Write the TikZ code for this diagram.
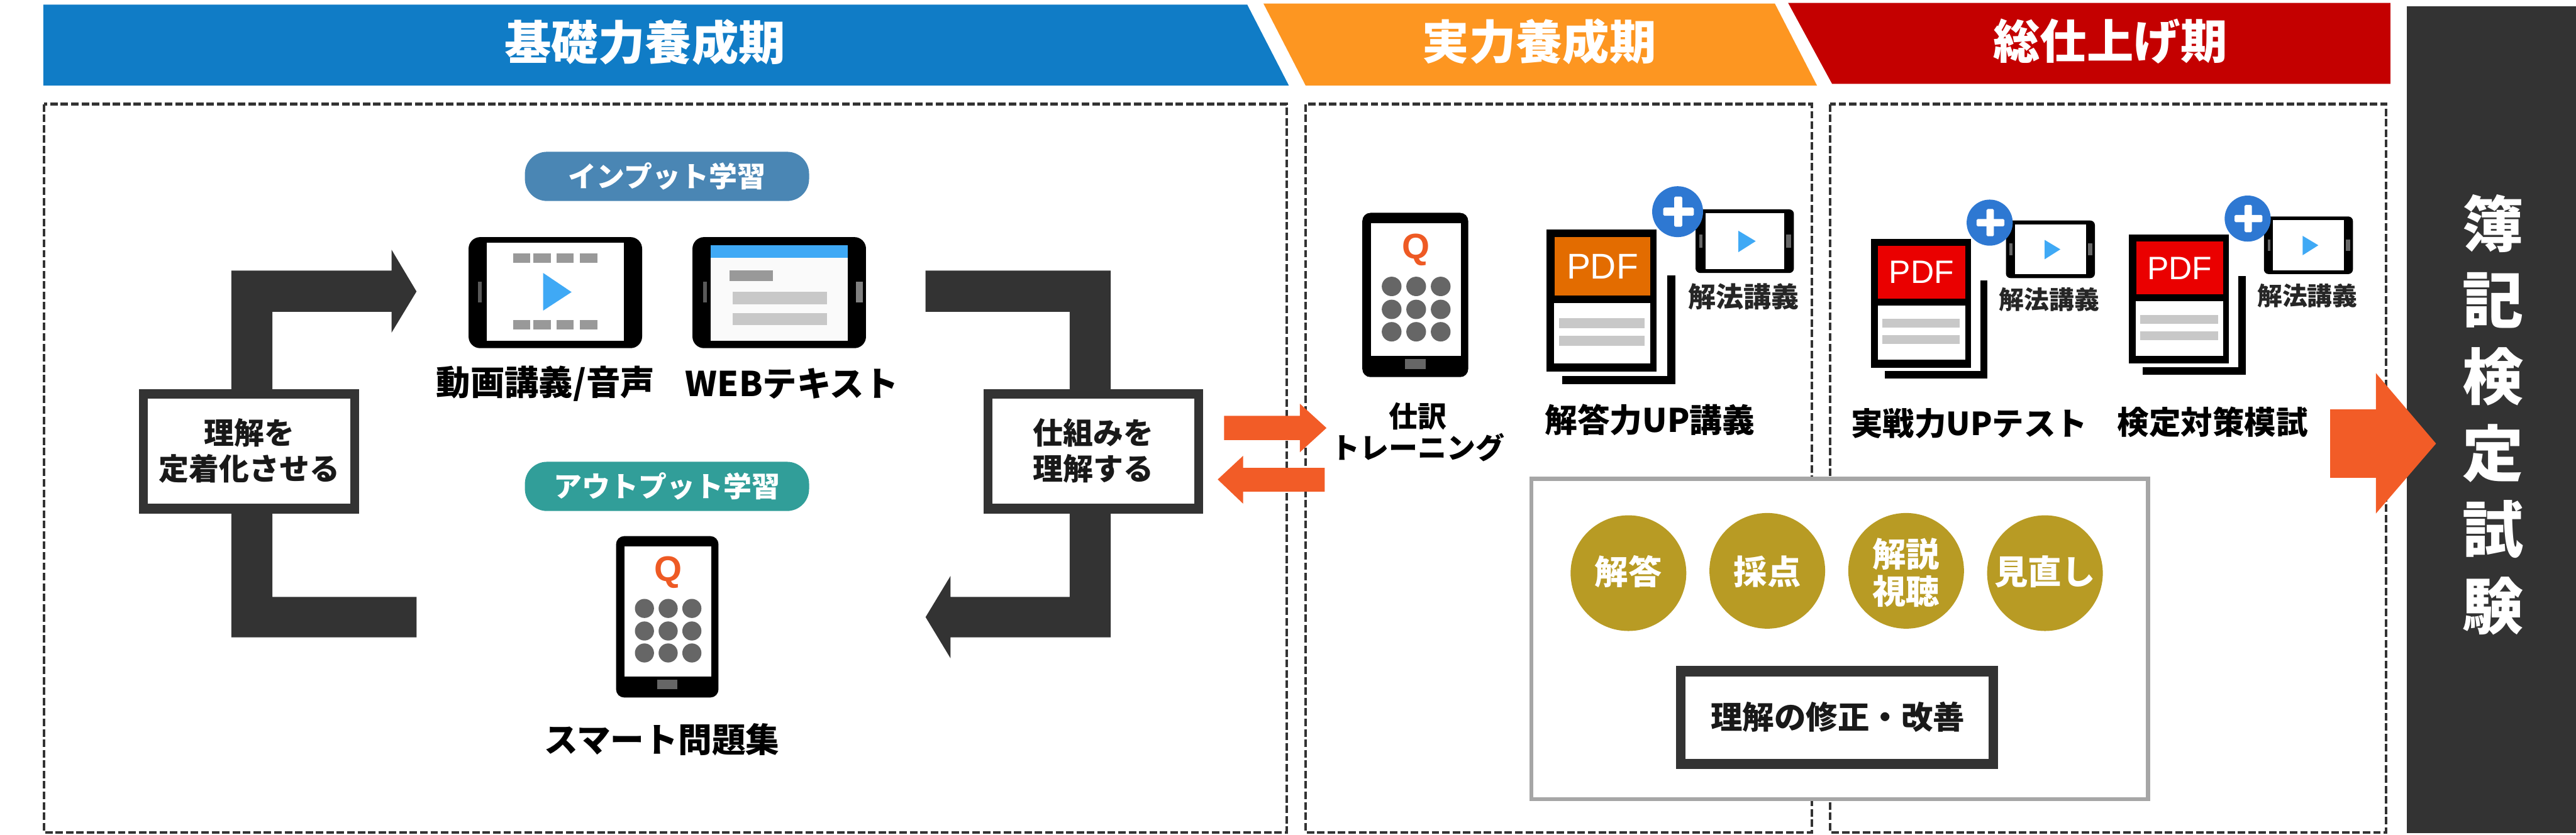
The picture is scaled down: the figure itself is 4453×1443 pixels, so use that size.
\documentclass[tikz,border=0pt]{standalone}
\usepackage{fontspec}
\setmainfont{Noto Sans CJK JP}
\newfontfamily\latinf{Liberation Sans}
\definecolor{hblue}{HTML}{107CC6}
\definecolor{horange}{HTML}{FD9621}
\definecolor{hred}{HTML}{C40000}
\definecolor{dark}{HTML}{333333}
\definecolor{arrowor}{HTML}{F25C27}
\definecolor{pillblue}{HTML}{4A86B4}
\definecolor{pillteal}{HTML}{319E99}
\definecolor{playblue}{HTML}{3FA9F5}
\definecolor{plusblue}{HTML}{2E78D2}
\definecolor{gold}{HTML}{B89B24}
\definecolor{pdfor}{HTML}{E36C00}
\definecolor{pdfred}{HTML}{EA0000}
\definecolor{barlight}{HTML}{C8C8C8}
\definecolor{barmid}{HTML}{999999}
\definecolor{qred}{HTML}{EE5A24}
\newcommand\pxtext[1]{\fontsize{#1}{#1}\selectfont\bfseries}
\tikzset{
  lbl/.style={inner sep=0pt,outer sep=0pt,align=center,text=black},
  dashbox/.style={draw=dark,line width=.045cm,dash pattern=on .13cm off .05cm},
  whitetxt/.style={lbl,text=white}
}
% phone icon: name, x, y, xscale, yscale
\newcommand\phoneicon[5]{%
\begin{scope}[shift={(#2,#3)},xscale=#4,yscale=#5]
  \fill[black,rounded corners=.14cm] (0,0) rectangle (177,279);
  \fill[white] (15,18) rectangle (165,243);
  \fill[black!60] (71,248) rectangle (106,265);
  \node[lbl,text=qred,font=\latinf\bfseries\fontsize{17.5}{17.5}\selectfont] (#1q) at (90,63) {Q};
  \foreach \cx in {49,90,131}{\foreach \cy in {125,164,202}{\fill[black!60] (\cx,\cy) circle (16.5);}}
\end{scope}}
% pdf + video icon: name, x, y, scale, colour
\newcommand\pdficon[5]{%
\begin{scope}[shift={(#2,#3)},scale=#4,transform shape]
  \fill[black] (209,79) rectangle (223,267);
  \fill[black] (27,253) rectangle (223,267);
  \fill[white] (191,0) rectangle (209,253);
  \fill[black] (0,0) rectangle (191,246);
  \fill[#5] (14,13) rectangle (180,114);
  \fill[white] (13,127) rectangle (180,231);
  \fill[barlight] (22,153) rectangle (170,170);
  \fill[barlight] (22,184) rectangle (170,201);
  \node[lbl,text=white,font=\latinf\fontsize{17.6}{17.6}\selectfont] (#1p) at (97,64) {PDF};
  % small tablet
  \fill[black,rounded corners=.08cm] (258,-35) rectangle (428,75);
  \fill[white] (275,-28) rectangle (411,68);
  \fill[black!60] (265,9) rectangle (270,31);
  \fill[black!60] (415,9) rectangle (423,31);
  \fill[playblue] (332,2) -- (362,20) -- (332,39) -- cycle;
  % plus
  \fill[plusblue] (227,-31) circle (44);
  \fill[white,rounded corners=.02cm] (202,-38) rectangle (255,-24);
  \fill[white,rounded corners=.02cm] (221,-57) rectangle (235,-5);
  \node[lbl,text=black!85,font=\pxtext{13.6}] (#1k) at (341,116) {解法講義};
\end{scope}}
\begin{document}
\begin{tikzpicture}[x=0.01cm,y=-0.01cm]
\useasboundingbox (0,0) rectangle (4453,1443);
\fill[white] (0,0) rectangle (4453,1443);
% headers
\fill[hblue] (75,8) -- (2156,8) -- (2228,148) -- (75,148) -- cycle;
\fill[horange] (2184,6) -- (3068,6) -- (3141,148) -- (2257,148) -- cycle;
\fill[hred] (3091,5) -- (4132,5) -- (4132,145) -- (3167,145) -- cycle;
\node[whitetxt,font=\pxtext{23}] (h1) at (1115,73) {基礎力養成期};
\node[whitetxt,font=\pxtext{23}] (h2) at (2661,72) {実力養成期};
\node[whitetxt,font=\pxtext{23}] (h3) at (3648,71) {総仕上げ期};
% exam bar
\fill[dark] (4161,11) rectangle (4453,1440);
\node[whitetxt,font=\fontsize{30}{37.6}\selectfont\bfseries] (exam) at (4310,717) {簿\\記\\検\\定\\試\\験};
% dashed panels
\draw[dashbox] (76,180) rectangle (2224,1439);
\draw[dashbox] (2257,180) rectangle (3132,1439);
\draw[dashbox] (3164,180) rectangle (4125,1439);
% pills
\node[draw=none,fill=pillblue,rounded corners=.38cm,minimum width=4.91cm,minimum height=.85cm,inner sep=0pt] (pill1) at (1153,305) {};
\node[whitetxt,font=\pxtext{13.9}] (pill1t) at (pill1) {インプット学習};
\node[draw=none,fill=pillteal,rounded corners=.38cm,minimum width=4.91cm,minimum height=.85cm,inner sep=0pt] (pill2) at (1153,841) {};
\node[whitetxt,font=\pxtext{13.9}] (pill2t) at (pill2) {アウトプット学習};
% video tablet
\fill[black,rounded corners=.2cm] (810,410) rectangle (1110,602);
\fill[white] (841,420) rectangle (1078,589);
\foreach \xa/\xb in {887/917,922/952,962/992,1002/1033}{
  \fill[barmid] (\xa,438) rectangle (\xb,454);
  \fill[barmid] (\xa,553) rectangle (\xb,570);}
\fill[playblue] (939,472) -- (988,505) -- (939,537) -- cycle;
\fill[black!65] (826,487) rectangle (833,523);
% web tablet
\fill[black,rounded corners=.2cm] (1197,410) rectangle (1497,602);
\fill[white!98!black] (1229,424) rectangle (1466,589);
\fill[playblue] (1229,424) rectangle (1466,446);
\fill[barmid] (1261,468) rectangle (1336,486);
\fill[barlight] (1266,504) rectangle (1430,526);
\fill[barlight] (1266,541) rectangle (1430,562);
\fill[black!65] (1215,487) rectangle (1222,523);
\fill[black!50] (1480,487) rectangle (1492,523);
\node[lbl,font=\pxtext{16.8}] (l1) at (943,663) {動画講義/音声};
\node[lbl,font=\pxtext{16.8}] (l2) at (1369,663) {WEBテキスト};
% smart phone
\phoneicon{ph1}{1065}{927}{1}{1}
\node[lbl,font=\pxtext{16.6}] (l3) at (1144,1279) {スマート問題集};
% block arrows
\fill[dark] (720,504) -- (677,432) -- (677,468) -- (400,468) -- (400,1102) -- (720,1102) -- (720,1032) -- (471,1032) -- (471,539) -- (677,539) -- (677,575) -- cycle;
\fill[dark] (1600,468) -- (1920,468) -- (1920,1102) -- (1643,1102) -- (1643,1138) -- (1600,1067) -- (1643,996) -- (1643,1032) -- (1849,1032) -- (1849,539) -- (1600,539) -- cycle;
% frame boxes
\fill[dark] (240,673) rectangle (621,888);
\fill[white] (255,689) rectangle (605,871);
\node[lbl,text=black!90,font=\pxtext{14.8},align=center] (b1) at (431,779) {理解を\\[.1cm]定着化させる};
\fill[dark] (1700,673) rectangle (2080,888);
\fill[white] (1716,689) rectangle (2065,871);
\node[lbl,text=black!90,font=\pxtext{14.8},align=center] (b2) at (1890,779) {仕組みを\\[.1cm]理解する};
% orange arrows
\fill[arrowor] (2293,740) -- (2247,698) -- (2247,719) -- (2116,719) -- (2116,761) -- (2247,761) -- (2247,782) -- cycle;
\fill[arrowor] (2105,829) -- (2149,788) -- (2149,809) -- (2290,809) -- (2290,850) -- (2149,850) -- (2149,871) -- cycle;
% panel 2
\phoneicon{ph2}{2355}{368}{1.034}{1.018}
\node[lbl,font=\pxtext{14.2},align=center] (l4) at (2451,747) {仕訳\\[.05cm]トレーニング};
\pdficon{ic1}{2673}{397}{1}{pdfor}
\node[lbl,font=\pxtext{16}] (l5) at (2852,726) {解答力UP講義};
% panel 3
\pdficon{ic2}{3234}{413}{.905}{pdfred}
\pdficon{ic3}{3680}{406}{.905}{pdfred}
\node[lbl,font=\pxtext{15.6}] (l6) at (3404,732) {実戦力UPテスト};
\node[lbl,font=\pxtext{15.6}] (l7) at (3825,730) {検定対策模試};
% review box
\draw[draw=black!35,line width=.07cm,fill=white] (2647,828) rectangle (3713,1382);
\fill[gold] (2815,991) circle (100);
\fill[gold] (3055,987) circle (100);
\fill[gold] (3295,987) circle (100);
\fill[gold] (3535,991) circle (100);
\node[whitetxt,font=\pxtext{16.5}] (c1) at (2815,988) {解答};
\node[whitetxt,font=\pxtext{16.5}] (c2) at (3055,988) {採点};
\node[whitetxt,font=\fontsize{16.5}{18}\selectfont\bfseries] (c3) at (3295,990) {解説\\視聴};
\node[whitetxt,font=\pxtext{16.5}] (c4) at (3535,988) {見直し};
\fill[dark] (2897,1151) rectangle (3454,1330);
\fill[white] (2914,1170) rectangle (3438,1312);
\node[lbl,text=black!90,font=\pxtext{15.6}] (b3) at (3177,1240) {理解の修正・改善};
% big arrow
\fill[arrowor] (4211,767) -- (4107,645) -- (4107,708) -- (4028,708) -- (4028,826) -- (4107,826) -- (4107,888) -- cycle;
\end{tikzpicture}
\end{document}
